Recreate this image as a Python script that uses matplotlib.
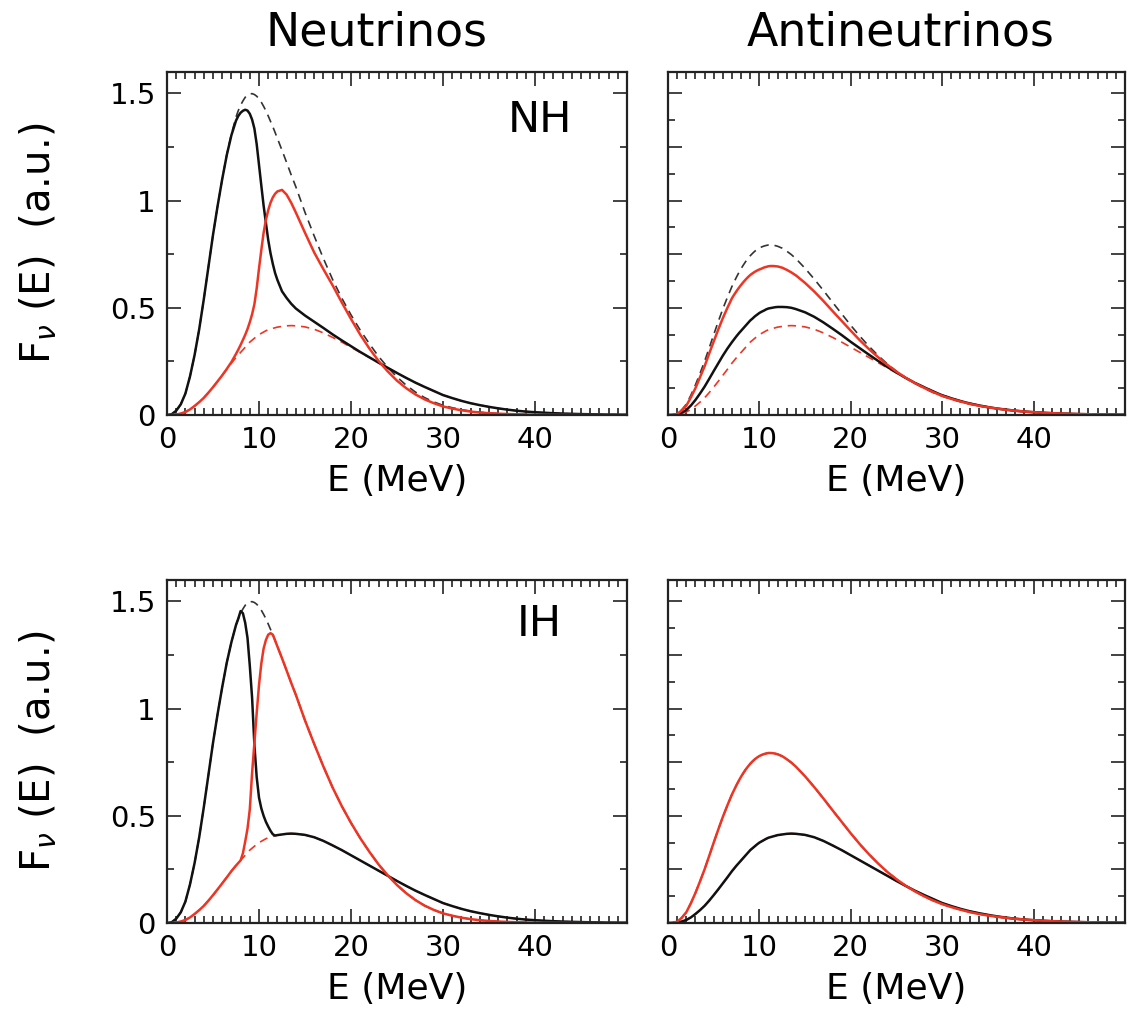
import matplotlib
matplotlib.use("Agg")
import matplotlib.pyplot as plt
from matplotlib.ticker import MultipleLocator

# Energy grid (MeV), finer around the spectral swaps
energy = [0, 0.5, 1, 1.5, 2, 2.5, 3, 3.5, 4, 4.5, 5, 5.5, 6, 6.5, 7,
          7.25, 7.5, 7.75, 8, 8.25, 8.5, 8.75, 9, 9.25, 9.5, 9.75, 10,
          10.25, 10.5, 10.75, 11, 11.25, 11.5, 11.75, 12,
          12.5, 13, 13.5, 14,
          15, 16, 17, 18, 19, 20, 21, 22, 23, 24, 25, 26, 27, 28, 29, 30,
          31, 32, 33, 34, 35, 36, 37, 38, 39, 40, 41, 42, 43, 44, 45, 46,
          47, 48, 49, 50]

# initial fluxes (dashed)
fe0_nu = [0, 0.003, 0.02, 0.05, 0.10, 0.18, 0.28, 0.40, 0.54, 0.69, 0.84, 0.975, 1.10, 1.215, 1.31,
          1.35, 1.39, 1.42, 1.445, 1.465, 1.482, 1.493, 1.498, 1.499, 1.495, 1.487, 1.475,
          1.459, 1.44, 1.419, 1.395, 1.37, 1.345, 1.318, 1.29,
          1.235, 1.178, 1.12, 1.065,
          0.945, 0.835, 0.73, 0.632, 0.545, 0.467, 0.396, 0.332, 0.273, 0.222, 0.177, 0.139,
          0.107, 0.081, 0.061, 0.045, 0.034, 0.025, 0.018, 0.013, 0.0095, 0.007, 0.005, 0.0036,
          0.0026, 0.0018, 0.0013, 0.0009, 0.0006, 0.0004, 0.0003, 0.0002, 0.00015, 0.0001,
          0.0001, 0.0001]
fx0 = [0, 0.0003, 0.002, 0.007, 0.014, 0.026, 0.042, 0.06, 0.08, 0.104, 0.13, 0.157, 0.185, 0.213, 0.242,
       0.255, 0.268, 0.28, 0.292, 0.304, 0.316, 0.328, 0.34, 0.349, 0.358, 0.367, 0.375,
       0.381, 0.387, 0.393, 0.398, 0.401, 0.404, 0.407, 0.41,
       0.413, 0.416, 0.417, 0.416,
       0.411, 0.4, 0.383, 0.362, 0.34, 0.316, 0.292, 0.268, 0.244, 0.22, 0.196, 0.173,
       0.151, 0.131, 0.112, 0.093, 0.079, 0.066, 0.055, 0.046, 0.038, 0.031, 0.025, 0.02,
       0.016, 0.013, 0.0105, 0.0085, 0.0068, 0.0054, 0.0043, 0.0034, 0.0027, 0.0021,
       0.0017, 0.0013]
fe0_anu = [0, 0.001, 0.006, 0.024, 0.05, 0.092, 0.14, 0.194, 0.25, 0.312, 0.375, 0.436, 0.495, 0.549, 0.60,
           0.622, 0.644, 0.664, 0.683, 0.70, 0.716, 0.73, 0.743, 0.754, 0.764, 0.772, 0.779,
           0.784, 0.788, 0.791, 0.793, 0.793, 0.792, 0.79, 0.787,
           0.778, 0.764, 0.748, 0.729,
           0.684, 0.634, 0.581, 0.526, 0.472, 0.418, 0.367, 0.32, 0.277, 0.238, 0.204, 0.174,
           0.148, 0.125, 0.105, 0.088, 0.074, 0.062, 0.051, 0.042, 0.035, 0.029, 0.024, 0.0195,
           0.016, 0.013, 0.0105, 0.0085, 0.0069, 0.0056, 0.0045, 0.0036, 0.0029, 0.0023,
           0.0019, 0.0015]

# neutrinos, normal hierarchy
nh_black_nu = [0, 0.003, 0.02, 0.05, 0.10, 0.18, 0.28, 0.40, 0.54, 0.69, 0.84, 0.975, 1.10, 1.213, 1.305,
               1.339, 1.373, 1.395, 1.41, 1.419, 1.424, 1.42, 1.405, 1.378, 1.336, 1.263, 1.167,
               1.071, 0.977, 0.896, 0.817, 0.755, 0.705, 0.662, 0.63,
               0.577, 0.546, 0.519, 0.497,
               0.464, 0.435, 0.406, 0.376, 0.348, 0.321, 0.294, 0.269, 0.244, 0.22, 0.196, 0.173,
               0.151, 0.131, 0.112, 0.093, 0.079, 0.066, 0.055, 0.046, 0.038, 0.031, 0.025, 0.02,
               0.016, 0.013, 0.0105, 0.0085, 0.0068, 0.0054, 0.0043, 0.0034, 0.0027, 0.0021,
               0.0017, 0.0013]
nh_red_nu = [0, 0.0003, 0.002, 0.007, 0.014, 0.026, 0.042, 0.06, 0.08, 0.104, 0.13, 0.157, 0.185, 0.215, 0.247,
             0.266, 0.285, 0.305, 0.327, 0.35, 0.374, 0.401, 0.433, 0.47, 0.517, 0.591, 0.683,
             0.769, 0.85, 0.91, 0.955, 0.99, 1.015, 1.032, 1.043,
             1.05, 1.028, 0.99, 0.945,
             0.85, 0.758, 0.68, 0.605, 0.525, 0.448, 0.375, 0.31, 0.252, 0.203, 0.16, 0.125,
             0.096, 0.073, 0.055, 0.04, 0.03, 0.022, 0.016, 0.0115, 0.0085, 0.006, 0.0045, 0.0032,
             0.0023, 0.0016, 0.0012, 0.0008, 0.0006, 0.0004, 0.0003, 0.0002, 0.00015, 0.0001,
             0.0001, 0.0001]

# neutrinos, inverted hierarchy
ih_black_nu = [0, 0.003, 0.02, 0.05, 0.10, 0.18, 0.28, 0.40, 0.54, 0.69, 0.84, 0.975, 1.10, 1.215, 1.31,
               1.35, 1.39, 1.42, 1.455, 1.445, 1.40, 1.33, 1.20, 1.05, 0.83, 0.68, 0.585,
               0.535, 0.50, 0.472, 0.45, 0.43, 0.414, 0.408, 0.41,
               0.413, 0.416, 0.417, 0.416,
               0.411, 0.4, 0.383, 0.362, 0.34, 0.316, 0.292, 0.268, 0.244, 0.22, 0.196, 0.173,
               0.151, 0.131, 0.112, 0.093, 0.079, 0.066, 0.055, 0.046, 0.038, 0.031, 0.025, 0.02,
               0.016, 0.013, 0.0105, 0.0085, 0.0068, 0.0054, 0.0043, 0.0034, 0.0027, 0.0021,
               0.0017, 0.0013]
ih_red_nu = [0, 0.0003, 0.002, 0.007, 0.014, 0.026, 0.042, 0.06, 0.08, 0.104, 0.13, 0.157, 0.185, 0.213, 0.242,
             0.255, 0.268, 0.28, 0.292, 0.325, 0.38, 0.44, 0.53, 0.70, 0.84, 0.98, 1.11,
             1.21, 1.28, 1.32, 1.345, 1.352, 1.345, 1.318, 1.29,
             1.235, 1.178, 1.12, 1.065,
             0.945, 0.835, 0.73, 0.632, 0.545, 0.467, 0.396, 0.332, 0.273, 0.222, 0.177, 0.139,
             0.107, 0.081, 0.061, 0.045, 0.034, 0.025, 0.018, 0.013, 0.0095, 0.007, 0.005, 0.0036,
             0.0026, 0.0018, 0.0013, 0.0009, 0.0006, 0.0004, 0.0003, 0.0002, 0.00015, 0.0001,
             0.0001, 0.0001]

# antineutrinos, normal hierarchy
nh_red_anu = [0, 0.001, 0.005, 0.021, 0.043, 0.082, 0.125, 0.176, 0.227, 0.286, 0.343, 0.399, 0.452, 0.50, 0.545,
              0.562, 0.578, 0.593, 0.607, 0.62, 0.632, 0.643, 0.653, 0.661, 0.668, 0.674, 0.679,
              0.683, 0.688, 0.691, 0.694, 0.695, 0.695, 0.694, 0.693,
              0.687, 0.677, 0.665, 0.651,
              0.616, 0.576, 0.532, 0.485, 0.439, 0.393, 0.348, 0.307, 0.269, 0.234, 0.202, 0.174,
              0.149, 0.127, 0.107, 0.089, 0.075, 0.063, 0.052, 0.043, 0.036, 0.030, 0.024, 0.020,
              0.016, 0.013, 0.0105, 0.0085, 0.0069, 0.0055, 0.0045, 0.0036, 0.0029, 0.0023,
              0.0018, 0.0014]
nh_black_anu = [0, 0.0005, 0.003, 0.011, 0.023, 0.044, 0.07, 0.1, 0.132, 0.168, 0.205, 0.241, 0.277, 0.31, 0.34,
                0.354, 0.368, 0.381, 0.393, 0.405, 0.417, 0.429, 0.441, 0.45, 0.46, 0.468, 0.476,
                0.482, 0.487, 0.493, 0.497, 0.499, 0.501, 0.503, 0.504,
                0.504, 0.503, 0.5, 0.494,
                0.479, 0.458, 0.432, 0.403, 0.373, 0.341, 0.311, 0.281, 0.252, 0.224, 0.198, 0.173,
                0.150, 0.130, 0.110, 0.092, 0.078, 0.065, 0.054, 0.045, 0.037, 0.030, 0.025, 0.020,
                0.016, 0.013, 0.0105, 0.0085, 0.0068, 0.0054, 0.0043, 0.0035, 0.0027, 0.0022,
                0.0018, 0.0014]

# antineutrinos, inverted hierarchy: complete swap of the initial spectra
ih_red_anu = fe0_anu
ih_black_anu = fx0

RED = '#ee3524'
BLACK = '#111111'

plt.rcParams['font.family'] = 'DejaVu Sans'
plt.rcParams['mathtext.fontset'] = 'dejavusans'

fig = plt.figure(figsize=(11.3, 10.28), dpi=100)
W, H = 1130.0, 1028.0


def make_axes(x0, y_bottom, width):
    return fig.add_axes([x0 / W, 1 - y_bottom / H, width / W, 343 / H])


ax1 = make_axes(167, 415, 460)
ax2 = make_axes(668, 415, 457)
ax3 = make_axes(167, 923, 460)
ax4 = make_axes(668, 923, 457)


def style(ax, labelled):
    ax.set_xlim(0, 50)
    ax.set_ylim(0, 1.6)
    ax.set_xticks([0, 10, 20, 30, 40, 50])
    ax.set_xticklabels(['0', '10', '20', '30', '40', ''])
    ax.xaxis.set_minor_locator(MultipleLocator(1))
    if labelled:
        ax.set_yticks([0, 0.5, 1, 1.5])
        ax.set_yticklabels(['0', '0.5', '1', '1.5'])
        ax.yaxis.set_minor_locator(MultipleLocator(0.25))
    else:
        ax.yaxis.set_major_locator(MultipleLocator(0.25))
        ax.yaxis.set_minor_locator(MultipleLocator(0.125))
        ax.set_yticklabels([])
    ax.tick_params(which='both', direction='in', top=True, right=True,
                   width=1.2, color='#222222', labelsize=21, pad=8)
    ax.tick_params(which='major', length=10)
    ax.tick_params(which='minor', length=5)
    for s in ax.spines.values():
        s.set_linewidth(1.6)
        s.set_color('#222222')
    ax.set_xlabel('E (MeV)', fontsize=26, labelpad=7)
    if labelled:
        ax.set_ylabel(r'F$_{\nu}$ (E)  (a.u.)', fontsize=29, va='center')
        ax.yaxis.set_label_coords(-0.28, 0.5)


def draw(ax, e_dash, x_dash, black, red):
    ax.plot(energy, e_dash, color='#333333', lw=1.2, ls=(0, (5, 3.5)))
    ax.plot(energy, x_dash, color=RED, lw=1.2, ls=(0, (5, 3.5)))
    ax.plot(energy, black, color=BLACK, lw=1.8)
    ax.plot(energy, red, color=RED, lw=1.8)


draw(ax1, fe0_nu, fx0, nh_black_nu, nh_red_nu)
draw(ax2, fe0_anu, fx0, nh_black_anu, nh_red_anu)
draw(ax3, fe0_nu, fx0, ih_black_nu, ih_red_nu)
draw(ax4, fe0_anu, fx0, ih_black_anu, ih_red_anu)

for ax, lab in [(ax1, True), (ax2, False), (ax3, True), (ax4, False)]:
    style(ax, lab)

ax1.text(0.81, 0.86, 'NH', transform=ax1.transAxes, fontsize=31,
         ha='center', va='center')
ax3.text(0.81, 0.872, 'IH', transform=ax3.transAxes, fontsize=31,
         ha='center', va='center')

fig.text(377 / W, 1 - 33 / H, 'Neutrinos', fontsize=33, ha='center', va='center')
fig.text(901 / W, 1 - 33 / H, 'Antineutrinos', fontsize=33, ha='center', va='center')

fig.savefig('out.png', dpi=100)
